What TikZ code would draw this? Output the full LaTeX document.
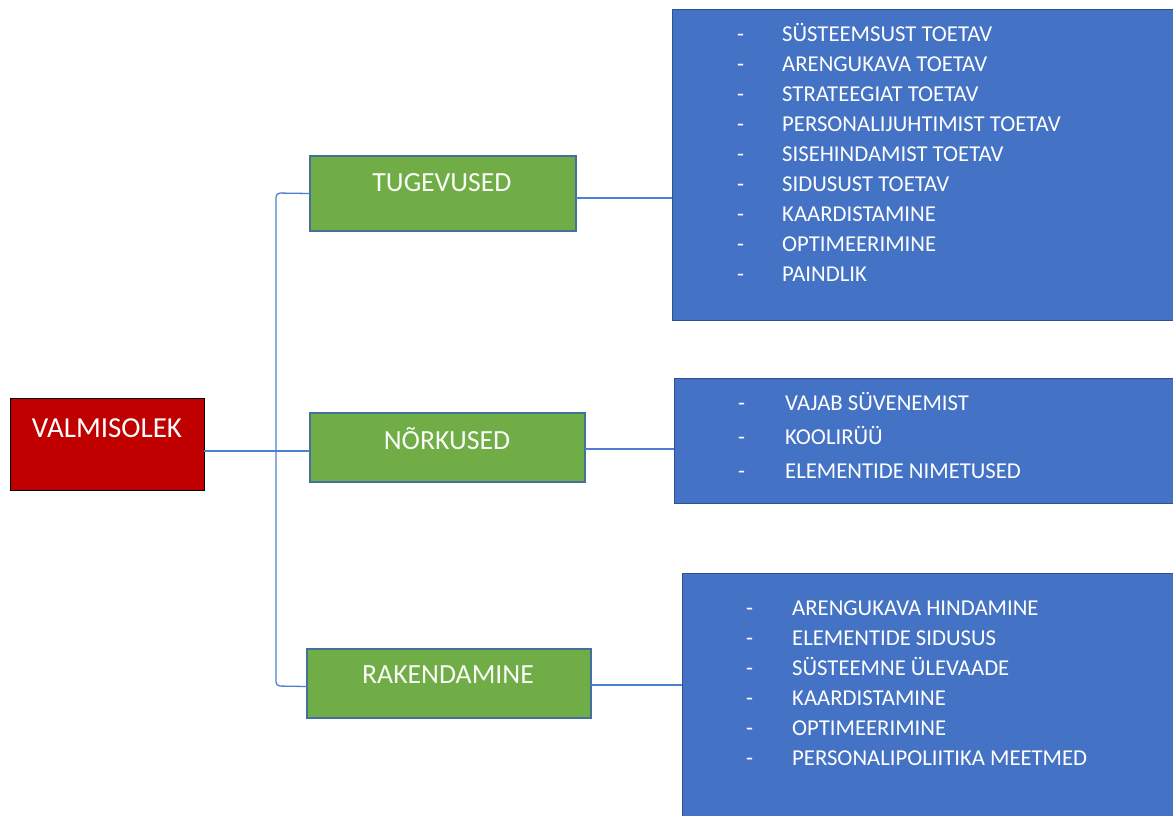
\documentclass[tikz,border=0pt]{standalone}
\usepackage{fontspec}
\setmainfont{Carlito}
\definecolor{valmred}{HTML}{C00000}
\definecolor{boxgreen}{HTML}{70AD47}
\definecolor{boxblue}{HTML}{4472C4}
\definecolor{bluedge}{HTML}{2F528F}
\definecolor{greenedge}{HTML}{41719C}
\definecolor{connblue}{HTML}{4F7FD0}
\begin{document}
\begin{tikzpicture}[x=1pt,y=-1pt,
  shapebox/.style={rectangle, inner sep=0pt, outer sep=0pt, anchor=north west},
  rootbox/.style={shapebox, fill=valmred, draw=black, line width=1pt},
  catbox/.style={shapebox, fill=boxgreen, draw=greenedge, line width=1.3pt},
  listbox/.style={shapebox, fill=boxblue, draw=bluedge, line width=1pt},
  rootlabel/.style={anchor=base, text=white, inner sep=0pt, font=\fontsize{29}{34}\selectfont},
  catlabel/.style={anchor=base, text=white!95!boxgreen, inner sep=0pt, font=\fontsize{27.7}{33}\selectfont},
  itemtext/.style={anchor=base west, text=white, inner sep=0pt, font=\fontsize{22.7}{27}\selectfont},
  conn/.style={draw=connblue, line width=1.3pt}]
\useasboundingbox (0,0) rectangle (1173,815);
\clip (0,0) rectangle (1173,815);
\fill[white] (0,0) rectangle (1173,815);

% boxes
\node[rootbox, minimum width=194, minimum height=92] (valm) at (10,398) {};
\node[catbox, minimum width=266, minimum height=75] (tug) at (310,156) {};
\node[catbox, minimum width=275, minimum height=69] (nork) at (310,413) {};
\node[catbox, minimum width=284, minimum height=69] (rak) at (307,649) {};
\node[listbox, minimum width=520, minimum height=311] (b1) at (672,9) {};
\node[listbox, minimum width=520, minimum height=125] (b2) at (674,378) {};
\node[listbox, minimum width=520, minimum height=260] (b3) at (682,573) {};

% titles
\node[rootlabel] (tvalm) at (107,437) {VALMISOLEK};
\node[catlabel] (ttug) at (442,191) {TUGEVUSED};
\node[catlabel] (tnork) at (447,449) {NÕRKUSED};
\node[catlabel] (trak) at (448,683) {RAKENDAMINE};

% connectors
\coordinate (jt) at (276,193);
\coordinate (jm) at (276,451);
\coordinate (jb) at (276,686);
\draw[conn] (valm.east |- jm) -- (nork.west |- jm);
\draw[conn, rounded corners=4] (tug.west) -- (jt) -- (jb) -- ([yshift=-3pt]rak.west);
\draw[conn] (tug.east |- 0,198) -- (b1.west |- 0,198);
\draw[conn] (nork.east |- 0,449) -- (b2.west |- 0,449);
\draw[conn] (rak.east |- 0,685) -- (b3.west |- 0,685);

% list 1
\foreach \t [count=\i] in {SÜSTEEMSUST TOETAV, ARENGUKAVA TOETAV, STRATEEGIAT TOETAV,
  PERSONALIJUHTIMIST TOETAV, SISEHINDAMIST TOETAV, SIDUSUST TOETAV,
  KAARDISTAMINE, OPTIMEERIMINE, PAINDLIK}{
  \node[itemtext] (da\i) at (737,{41+30*(\i-1)}) {-};
  \node[itemtext] (ta\i) at (782,{41+30*(\i-1)}) {\t};
}
% list 2
\foreach \t [count=\i] in {VAJAB SÜVENEMIST, KOOLIRÜÜ, ELEMENTIDE NIMETUSED}{
  \node[itemtext] (db\i) at (738,{410+34*(\i-1)}) {-};
  \node[itemtext] (tb\i) at (785,{410+34*(\i-1)}) {\t};
}
% list 3
\foreach \t [count=\i] in {ARENGUKAVA HINDAMINE, ELEMENTIDE SIDUSUS, SÜSTEEMNE ÜLEVAADE,
  KAARDISTAMINE, OPTIMEERIMINE, PERSONALIPOLIITIKA MEETMED}{
  \node[itemtext] (dc\i) at (746,{615.5+30*(\i-1)}) {-};
  \node[itemtext] (tc\i) at (792,{615.5+30*(\i-1)}) {\t};
}
\end{tikzpicture}
\end{document}
